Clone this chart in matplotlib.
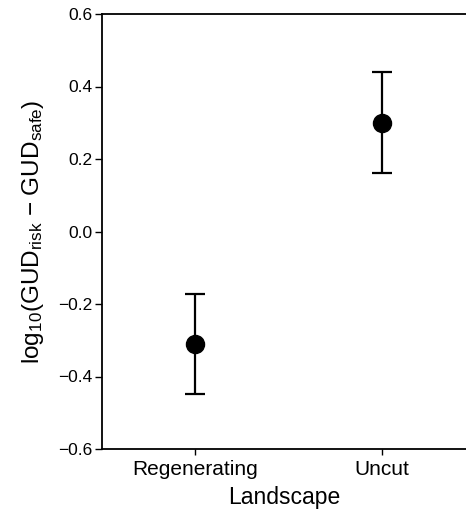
import numpy as np
import matplotlib
matplotlib.use('Agg')
import matplotlib.pyplot as plt

plt.rcParams['font.family'] = ['Liberation Sans', 'DejaVu Sans']
plt.rcParams['mathtext.fontset'] = 'custom'
plt.rcParams['mathtext.rm'] = 'Liberation Sans'
plt.rcParams['mathtext.it'] = 'Liberation Sans:italic'
plt.rcParams['mathtext.bf'] = 'Liberation Sans:bold'

landscapes = ['Regenerating', 'Uncut']
means = [-0.31, 0.30]
upper = [-0.172, 0.441]
lower = [-0.449, 0.162]
yticks = [-0.6, -0.4, -0.2, 0.0, 0.2, 0.4, 0.6]

means = np.array(means)
err = [means - np.array(lower), np.array(upper) - means]
x = np.arange(len(landscapes))

fig = plt.figure(figsize=(4.66, 5.12), dpi=100)
ax = fig.add_axes([102 / 466, 1 - 449 / 512, 1 - 102 / 466, (449 - 14) / 512])

ax.errorbar(x, means, yerr=err, fmt='o', color='black', ecolor='black',
            markersize=13, elinewidth=1.6, capsize=7.5, capthick=1.6)

ax.set_xlim(-0.5, 1.45)
ax.set_ylim(-0.6, 0.6)
ax.set_xticks(x)
ax.set_xticklabels(landscapes, fontsize=15)
ax.set_yticks(yticks)
ax.set_yticklabels(['\u22120.6', '\u22120.4', '\u22120.2', '0.0', '0.2', '0.4', '0.6'],
                   fontsize=12.5)
ax.tick_params(axis='y', direction='out', length=5, width=1, pad=2)
ax.tick_params(axis='x', direction='out', length=4, width=1, pad=4)

ax.spines['right'].set_visible(False)
ax.spines['left'].set_linewidth(1.3)
ax.spines['bottom'].set_linewidth(1.3)
ax.spines['top'].set_linewidth(1.3)

ax.set_xlabel('Landscape', fontsize=16.5, labelpad=5)
ax.set_ylabel(r'log$_{10}$(GUD$_{\rm risk}$ $-$ GUD$_{\rm safe}$)', fontsize=17.5, labelpad=9)

fig.savefig('out.png', dpi=100)
